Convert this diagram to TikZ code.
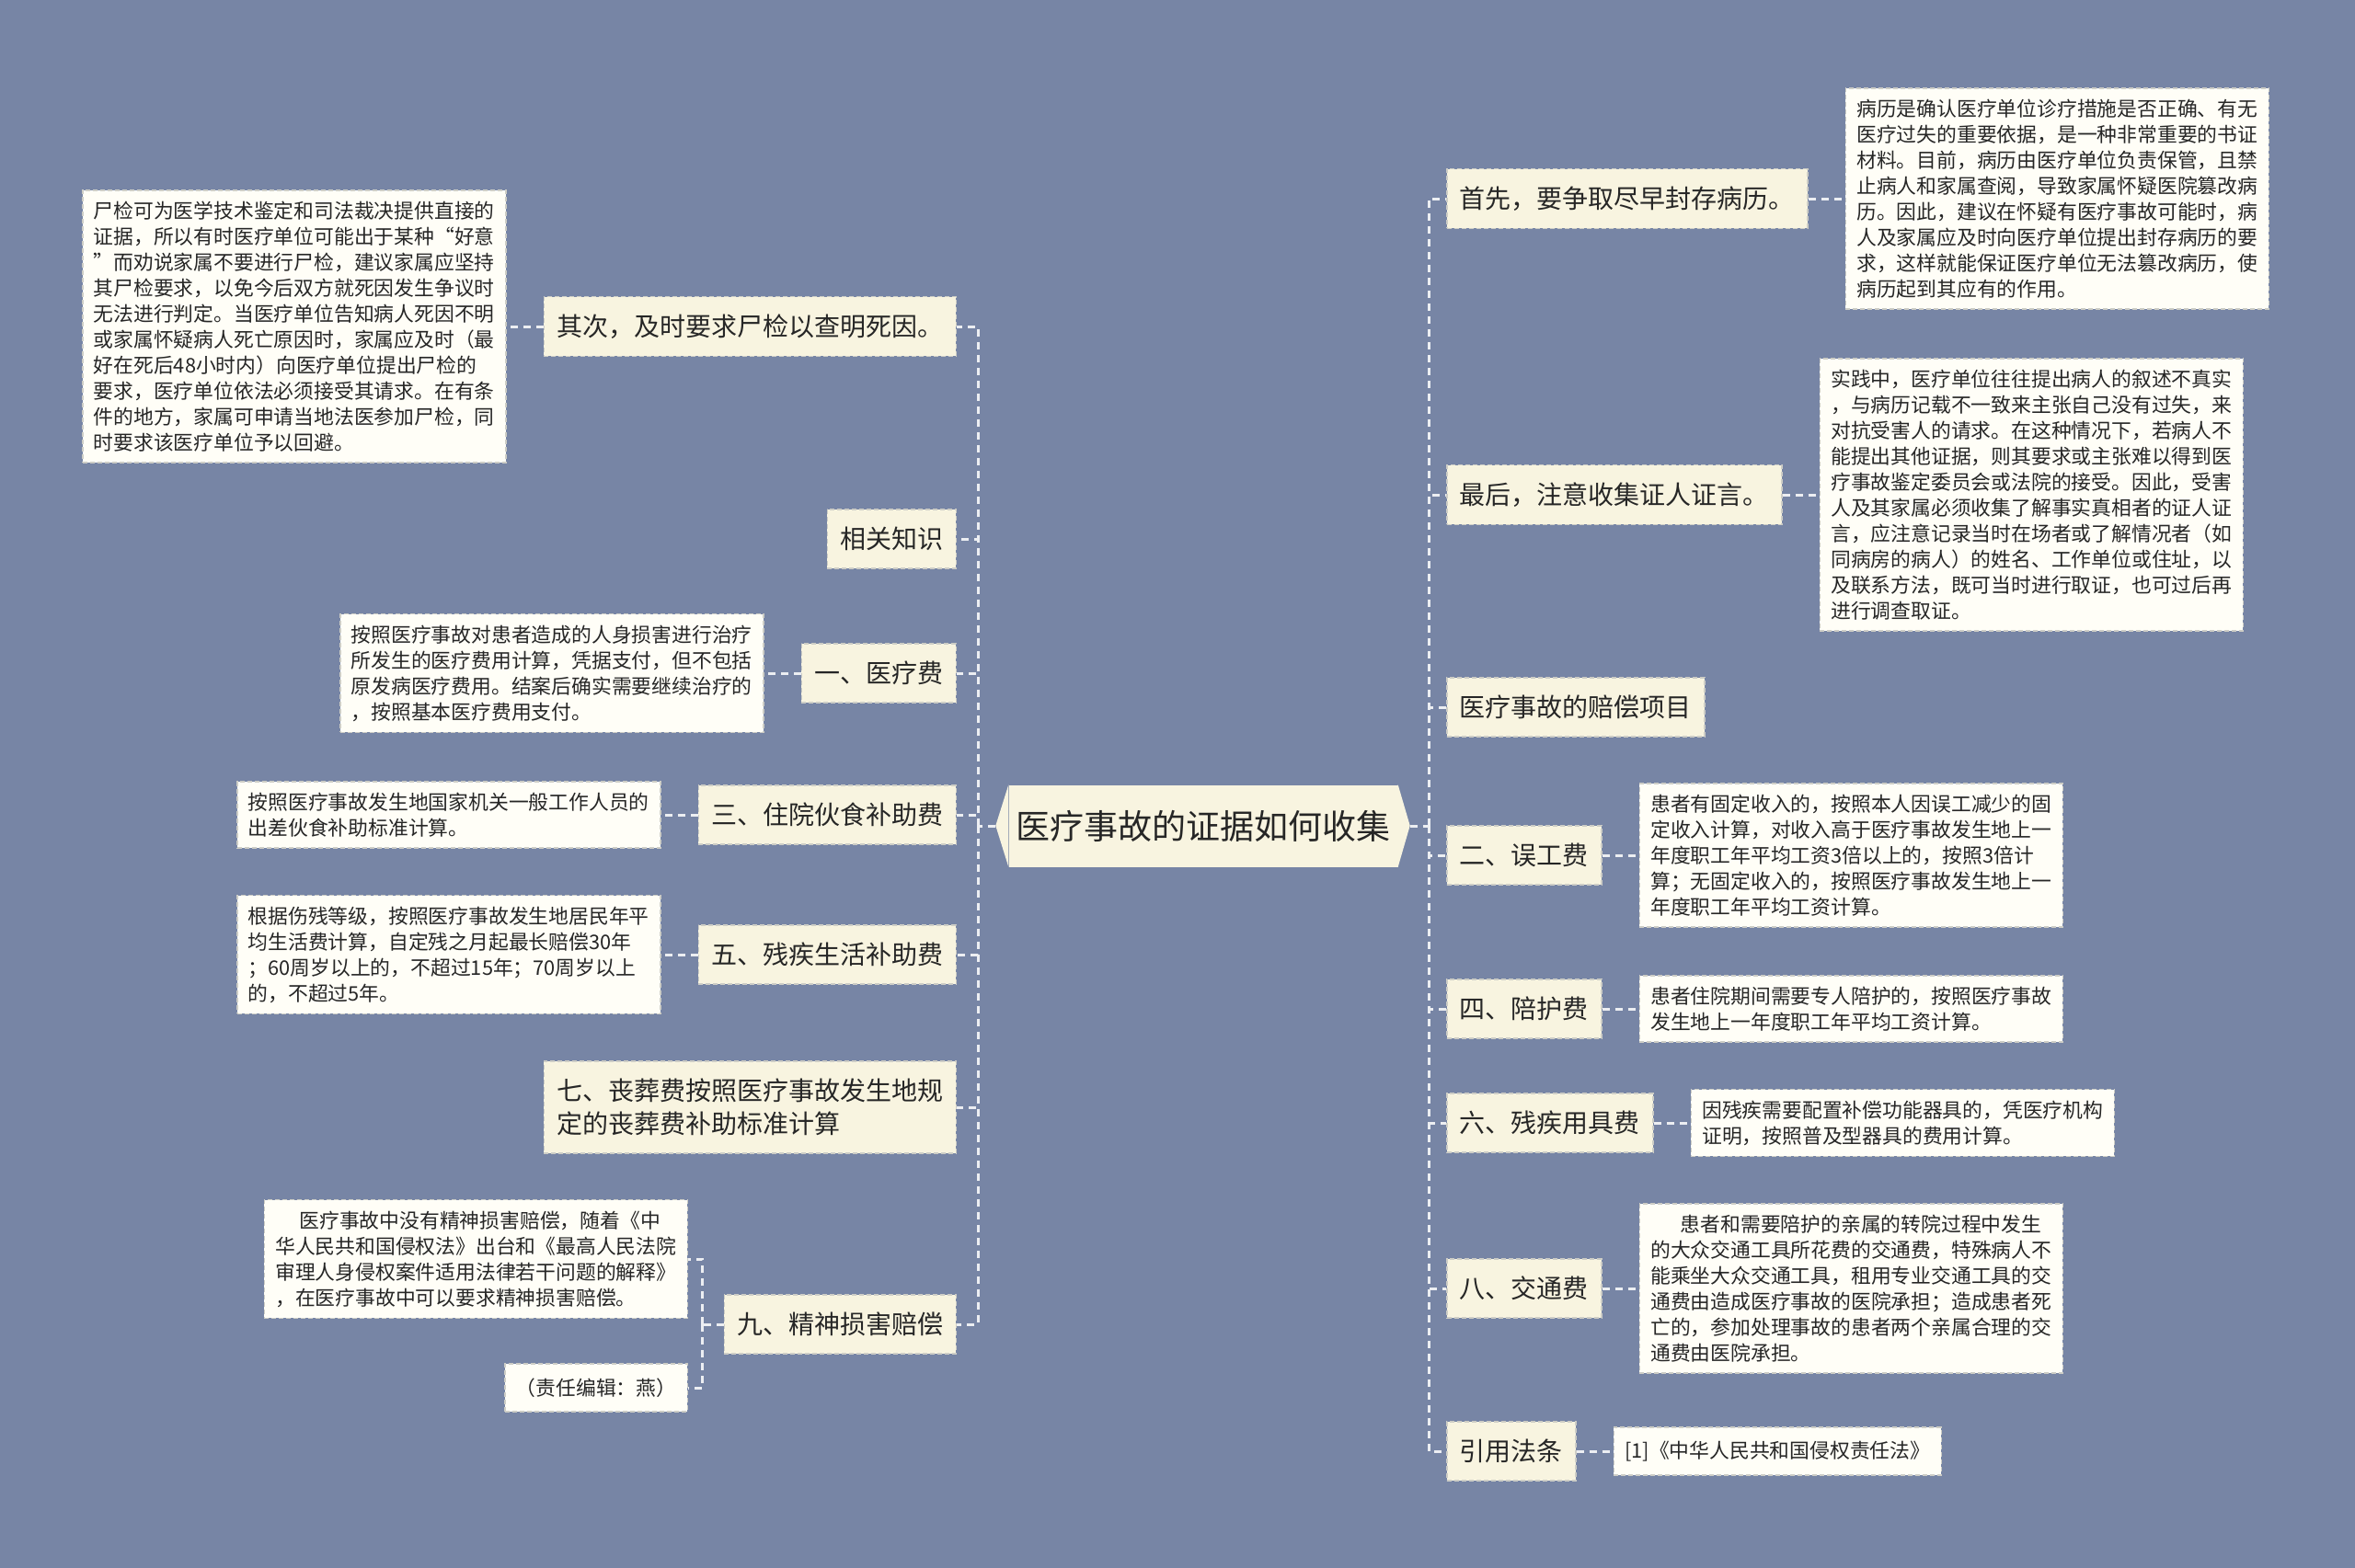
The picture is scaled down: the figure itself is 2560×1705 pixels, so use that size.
\documentclass[tikz,border=0pt]{standalone}
\usepackage{fontspec}
\setmainfont{Noto Sans CJK SC}
\usetikzlibrary{positioning}
\definecolor{bgblue}{RGB}{119,133,165}
\definecolor{mainfill}{RGB}{248,244,224}
\definecolor{leaffill}{RGB}{255,254,247}
\definecolor{edgeline}{RGB}{236,238,242}
\definecolor{boxline}{RGB}{205,205,198}
\definecolor{inkgray}{RGB}{38,38,38}

\begin{document}
\begin{tikzpicture}[x=1pt, y=-1pt, node distance=40pt,
	topic/.style={draw=boxline, dash pattern=on 5pt off 3pt, line width=1.5pt, fill=mainfill, text=inkgray,
		inner xsep=14pt, inner ysep=19pt, minimum height=64pt, align=left, font=\fontsize{28pt}{36pt}\selectfont},
	detail/.style={draw=boxline, dash pattern=on 5pt off 3pt, line width=1.5pt, fill=leaffill, text=inkgray,
		inner sep=12pt, minimum height=52pt, align=left, font=\fontsize{21.8pt}{28pt}\selectfont},
	link/.style={draw=edgeline, line width=3pt, dash pattern=on 8pt off 6pt}]

		\fill[bgblue] (0,0) rectangle (2560,1705);
		\useasboundingbox (0,0) rectangle (2560,1705);

		\node (v0) at (1308,898) [fill=mainfill, text=inkgray, minimum width=423pt, minimum height=89pt,
			inner sep=0pt, font=\fontsize{37pt}{44pt}\selectfont] {医疗事故的证据如何收集};
		\fill[mainfill] (v0.north west) -- ++(-14,44.5) -- (v0.south west) -- cycle;
		\fill[mainfill] (v0.north east) -- ++(13,44.5) -- (v0.south east) -- cycle;

		% right side
		\node (r1) at (1572,216) [topic, anchor=west] {首先，要争取尽早封存病历。};
		\node (r2) at (1572,538) [topic, anchor=west] {最后，注意收集证人证言。};
		\node (r3) at (1572,769) [topic, anchor=west] {医疗事故的赔偿项目};
		\node (r4) at (1572,930) [topic, anchor=west] {二、误工费};
		\node (r5) at (1572,1097) [topic, anchor=west] {四、陪护费};
		\node (r6) at (1572,1221) [topic, anchor=west] {六、残疾用具费};
		\node (r7) at (1572,1401) [topic, anchor=west] {八、交通费};
		\node (r8) at (1572,1578) [topic, anchor=west] {引用法条};

		\node (r1-d) [detail, right=of r1] {病历是确认医疗单位诊疗措施是否正确、有无\\医疗过失的重要依据，是一种非常重要的书证\\材料。目前，病历由医疗单位负责保管，且禁\\止病人和家属查阅，导致家属怀疑医院篡改病\\历。因此，建议在怀疑有医疗事故可能时，病\\人及家属应及时向医疗单位提出封存病历的要\\求，这样就能保证医疗单位无法篡改病历，使\\病历起到其应有的作用。};
		\node (r2-d) [detail, right=of r2] {实践中，医疗单位往往提出病人的叙述不真实\\，与病历记载不一致来主张自己没有过失，来\\对抗受害人的请求。在这种情况下，若病人不\\能提出其他证据，则其要求或主张难以得到医\\疗事故鉴定委员会或法院的接受。因此，受害\\人及其家属必须收集了解事实真相者的证人证\\言，应注意记录当时在场者或了解情况者（如\\同病房的病人）的姓名、工作单位或住址，以\\及联系方法，既可当时进行取证，也可过后再\\进行调查取证。};
		\node (r4-d) [detail, right=of r4] {患者有固定收入的，按照本人因误工减少的固\\定收入计算，对收入高于医疗事故发生地上一\\年度职工年平均工资3倍以上的，按照3倍计\\算；无固定收入的，按照医疗事故发生地上一\\年度职工年平均工资计算。};
		\node (r5-d) [detail, right=of r5] {患者住院期间需要专人陪护的，按照医疗事故\\发生地上一年度职工年平均工资计算。};
		\node (r6-d) [detail, right=of r6] {因残疾需要配置补偿功能器具的，凭医疗机构\\证明，按照普及型器具的费用计算。};
		\node (r7-d) [detail, right=of r7] {\hspace*{1.5em}患者和需要陪护的亲属的转院过程中发生\\的大众交通工具所花费的交通费，特殊病人不\\能乘坐大众交通工具，租用专业交通工具的交\\通费由造成医疗事故的医院承担；造成患者死\\亡的，参加处理事故的患者两个亲属合理的交\\通费由医院承担。};
		\node (r8-d) [detail, right=of r8] {[1]《中华人民共和国侵权责任法》};

		% left side
		\node (l1) at (1040,355) [topic, anchor=east] {其次，及时要求尸检以查明死因。};
		\node (l2) at (1040,586) [topic, anchor=east] {相关知识};
		\node (l3) at (1040,732) [topic, anchor=east] {一、医疗费};
		\node (l4) at (1040,886) [topic, anchor=east] {三、住院伙食补助费};
		\node (l5) at (1040,1038) [topic, anchor=east] {五、残疾生活补助费};
		\node (l6) at (1040,1204) [topic, anchor=east] {七、丧葬费按照医疗事故发生地规\\定的丧葬费补助标准计算};
		\node (l7) at (1040,1440) [topic, anchor=east] {九、精神损害赔偿};

		\node (l1-d) [detail, left=of l1] {尸检可为医学技术鉴定和司法裁决提供直接的\\证据，所以有时医疗单位可能出于某种“好意\\”而劝说家属不要进行尸检，建议家属应坚持\\其尸检要求，以免今后双方就死因发生争议时\\无法进行判定。当医疗单位告知病人死因不明\\或家属怀疑病人死亡原因时，家属应及时（最\\好在死后48小时内）向医疗单位提出尸检的\\要求，医疗单位依法必须接受其请求。在有条\\件的地方，家属可申请当地法医参加尸检，同\\时要求该医疗单位予以回避。};
		\node (l3-d) [detail, left=of l3] {按照医疗事故对患者造成的人身损害进行治疗\\所发生的医疗费用计算，凭据支付，但不包括\\原发病医疗费用。结案后确实需要继续治疗的\\，按照基本医疗费用支付。};
		\node (l4-d) [detail, left=of l4] {按照医疗事故发生地国家机关一般工作人员的\\出差伙食补助标准计算。};
		\node (l5-d) [detail, left=of l5] {根据伤残等级，按照医疗事故发生地居民年平\\均生活费计算，自定残之月起最长赔偿30年\\；60周岁以上的，不超过15年；70周岁以上\\的，不超过5年。};
		\node (l7-a) at (748,1369) [detail, anchor=east] {\hspace*{1.2em}医疗事故中没有精神损害赔偿，随着《中\\华人民共和国侵权法》出台和《最高人民法院\\审理人身侵权案件适用法律若干问题的解释》\\，在医疗事故中可以要求精神损害赔偿。};
		\node (l7-b) at (748,1509) [detail, anchor=east] {（责任编辑：燕）};

		% connectors
		\coordinate (rhub) at (1553,898);
		\coordinate (lhub) at (1063,898);
		\coordinate (l7hub) at ([xshift=-23pt]l7.west);
		\draw[link] ([xshift=13pt]v0.east) -- (rhub);
		\draw[link] ([xshift=-14pt]v0.west) -- (lhub);
		\foreach \n in {r1,r2,r3,r4,r5,r6,r7,r8}
			\draw[link] (rhub) |- (\n.west);
		\foreach \n in {l1,l2,l3,l4,l5,l6,l7}
			\draw[link] (lhub) |- (\n.east);
		\foreach \n in {r1,r2,r4,r5,r6,r7,r8}
			\draw[link] (\n.east) -- (\n-d.west);
		\foreach \n in {l1,l3,l4,l5}
			\draw[link] (\n.west) -- (\n-d.east);
		\draw[link] (l7.west) -- (l7hub);
		\draw[link] (l7hub) |- (l7-a.east);
		\draw[link] (l7hub) |- (l7-b.east);
	\end{tikzpicture}
\end{document}
